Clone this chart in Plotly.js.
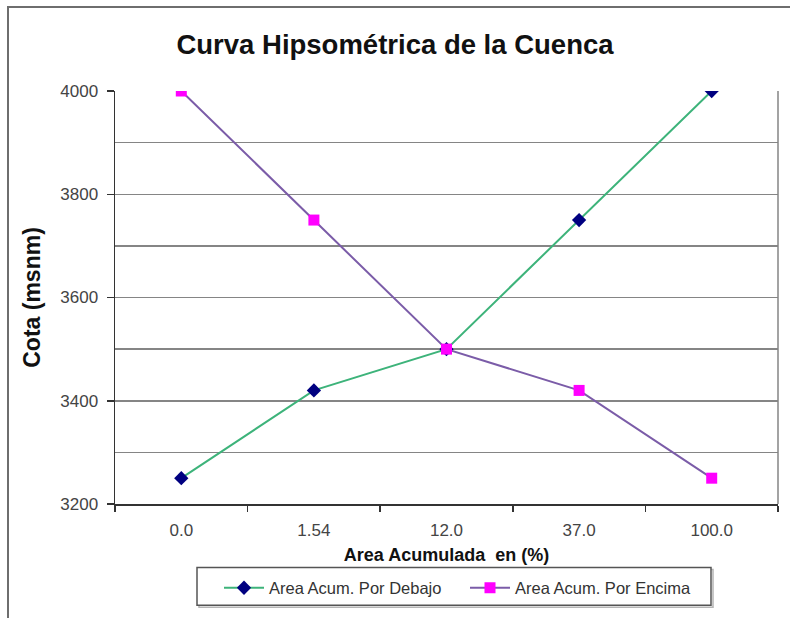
<!DOCTYPE html>
<html>
<head>
<meta charset="utf-8">
<script src="https://cdn.plot.ly/plotly-3.0.1.min.js"></script>
<style>
html,body{margin:0;padding:0;background:#fff;}
#wrap{position:relative;width:790px;height:618px;overflow:hidden;}
#chart{position:absolute;left:0;top:0;width:790px;height:618px;}
#frame{position:absolute;left:7px;top:6px;width:800px;height:640px;border-left:2px solid #6e6e6e;border-top:2px solid #6e6e6e;pointer-events:none;}
</style>
</head>
<body>
<div id="wrap"><div id="chart"></div><div id="frame"></div></div>
<script>
const categories = ["0.0", "1.54", "12.0", "37.0", "100.0"];
const porDebajo = [3250, 3420, 3500, 3750, 4000];
const porEncima = [4000, 3750, 3500, 3420, 3250];
const seriesNames = ["Area Acum. Por Debajo", "Area Acum. Por Encima"];

const font = "Arial, 'Liberation Sans', sans-serif";

// plot area in pixels: x 115..778, y 91..507
const W = 790, H = 618, L = 115, R = 12, T = 91, B = 111;
const pw = W - L - R, ph = H - T - B;
const px = v => (v - L) / pw;
const py = v => (H - B - v) / ph;

const traces = [
  {
    x: categories, y: porDebajo, name: seriesNames[0],
    type: "scatter", mode: "lines+markers",
    line: {color: "#3db37a", width: 2},
    marker: {symbol: "diamond", color: "#000080", size: 11}
  },
  {
    x: categories, y: porEncima, name: seriesNames[1],
    type: "scatter", mode: "lines+markers",
    line: {color: "#7b5ca8", width: 2},
    marker: {symbol: "square", color: "#ff00ff", size: 11}
  }
];

const layout = {
  width: W, height: H,
  margin: {l: L, r: R, t: T, b: B},
  paper_bgcolor: "#ffffff", plot_bgcolor: "#ffffff",
  font: {family: font, color: "#222"},
  title: {text: "<b>Curva Hipsométrica de la Cuenca</b>", font: {size: 27.5, color: "#111"},
          x: 0.5, xref: "container", xanchor: "center", y: 0.928, yref: "container", yanchor: "middle"},
  showlegend: true,
  legend: {
    orientation: "h", x: px(219), xanchor: "left", y: py(574), yanchor: "top",
    borderwidth: 0, bgcolor: "rgba(0,0,0,0)",
    font: {size: 16.5, color: "#333"}, itemwidth: 40, entrywidth: 191, entrywidthmode: "pixels"
  },
  xaxis: {
    type: "category", range: [-0.5, 4.5], tickson: "boundaries", ticks: "outside", ticklen: 6, tickwidth: 1.5, tickcolor: "#333",
    showline: true, linecolor: "#333", linewidth: 1.5, showgrid: false, zeroline: false,
    tickfont: {size: 17, color: "#444"}, ticklabelstandoff: 10,
    title: {text: "<b>Area Acumulada  en (%)</b>", font: {size: 18, color: "#111"}, standoff: 9}
  },
  yaxis: {
    range: [3200, 4000], dtick: 200, tick0: 3200, ticks: "outside", ticklen: 7, tickwidth: 1.5, tickcolor: "#333",
    showline: true, linecolor: "#333", linewidth: 1.5,
    showgrid: true, gridcolor: "#858585", gridwidth: 1.5, zeroline: false,
    minor: {dtick: 100, showgrid: true, gridcolor: "#858585", gridwidth: 1.5, ticks: ""},
    tickfont: {size: 17, color: "#444"}, ticklabelstandoff: 5,
    title: {text: "<b>Cota (msnm)</b>", font: {size: 23, color: "#111"}, standoff: 13}
  },
  shapes: [
    {type: "line", xref: "paper", yref: "paper", x0: 1, x1: 1, y0: 0, y1: 1, line: {color: "#858585", width: 1.5}},
    // legend box shadow and frame
    {type: "rect", xref: "paper", yref: "paper", x0: px(199), x1: px(713), y0: py(573), y1: py(611),
     line: {color: "#b5b5b5", width: 1.5}, layer: "above"},
    {type: "rect", xref: "paper", yref: "paper", x0: px(197), x1: px(711), y0: py(571), y1: py(609),
     line: {color: "#555", width: 1.5}, fillcolor: "#fff", layer: "above"}
  ]
};

Plotly.newPlot("chart", traces, layout, {displayModeBar: false, staticPlot: true});
</script>
</body>
</html>
